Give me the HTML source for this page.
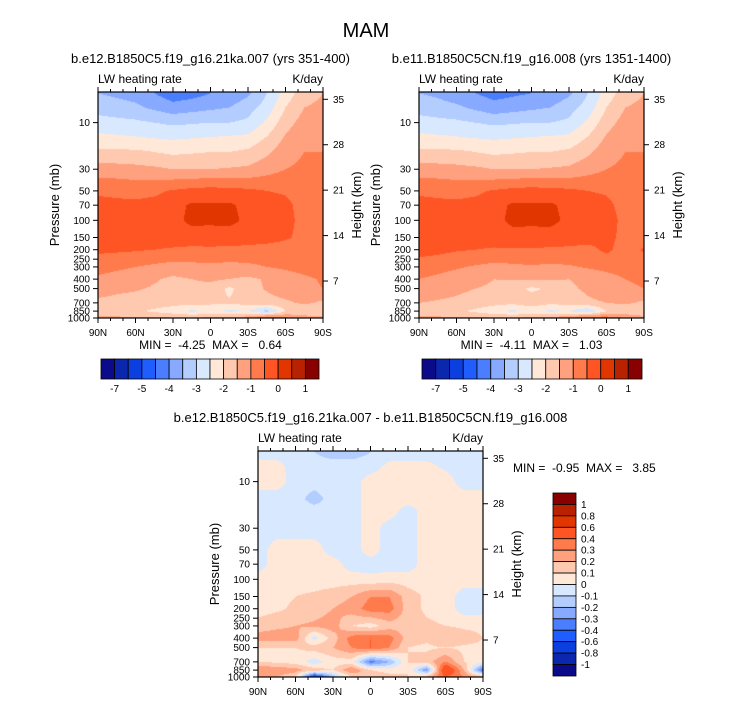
<!DOCTYPE html>
<html><head><meta charset="utf-8">
<style>
body{margin:0;background:#fff;width:733px;height:701px;overflow:hidden;font-family:"Liberation Sans",sans-serif;}
#wrap{position:relative;width:733px;height:701px;}
canvas{position:absolute;}
svg{position:absolute;left:0;top:0;}
svg text{white-space:pre;}
</style></head>
<body>
<div id="wrap">
<canvas id="c1" width="225" height="226" style="left:98px;top:92px"></canvas>
<canvas id="c2" width="225" height="226" style="left:419px;top:92px"></canvas>
<canvas id="c3" width="225" height="226" style="left:258px;top:451px"></canvas>
<svg id="s" width="733" height="701"></svg>
</div>
<script>
// ---- data ----
const lats = [90,75,60,45,30,15,0,-15,-30,-45,-60,-75,-90];
const pres = [5,7,10,15,20,30,50,70,100,150,200,300,400,500,700,850,1000];
const field1 = [
[-3.5,-3.6,-3.7,-4.0,-4.3,-4.2,-4.0,-3.9,-3.6,-3.0,-2.3,-1.7,-1.5],
[-3.2,-3.3,-3.4,-3.6,-3.8,-3.7,-3.6,-3.5,-3.2,-2.8,-2.0,-1.5,-1.4],
[-2.8,-2.85,-2.9,-3.0,-3.1,-3.05,-3.0,-3.0,-2.9,-2.4,-1.7,-1.3,-1.2],
[-2.3,-2.35,-2.4,-2.45,-2.5,-2.45,-2.4,-2.35,-2.3,-1.9,-1.4,-1.1,-1.0],
[-1.9,-1.9,-1.9,-2.0,-2.1,-2.05,-2.0,-2.0,-1.9,-1.6,-1.2,-1.0,-1.0],
[-1.3,-1.3,-1.35,-1.4,-1.5,-1.5,-1.5,-1.45,-1.4,-1.2,-1.0,-0.9,-0.9],
[-0.55,-0.6,-0.65,-0.6,-0.45,-0.35,-0.3,-0.35,-0.4,-0.5,-0.55,-0.7,-0.7],
[-0.4,-0.4,-0.4,-0.35,-0.2,0.08,0.04,0.08,-0.15,-0.3,-0.4,-0.65,-0.7],
[-0.35,-0.35,-0.35,-0.3,-0.15,0.12,0.08,0.12,-0.1,-0.25,-0.4,-0.6,-0.7],
[-0.3,-0.3,-0.3,-0.3,-0.28,-0.25,-0.2,-0.22,-0.25,-0.3,-0.45,-0.6,-0.7],
[-0.4,-0.42,-0.45,-0.5,-0.55,-0.6,-0.6,-0.62,-0.65,-0.7,-0.7,-0.7,-0.7],
[-0.8,-0.9,-1.0,-1.1,-1.2,-1.15,-1.1,-1.15,-1.1,-1.0,-0.9,-0.8,-0.75],
[-1.1,-1.2,-1.3,-1.45,-1.6,-1.5,-1.4,-1.5,-1.6,-1.45,-1.3,-1.1,-0.95],
[-1.3,-1.4,-1.45,-1.55,-1.6,-1.65,-1.7,-2.1,-1.7,-1.45,-1.2,-1.1,-1.0],
[-1.6,-1.65,-1.7,-1.75,-1.8,-1.85,-1.9,-1.95,-1.8,-1.7,-1.6,-1.4,-1.6],
[-1.8,-1.85,-1.9,-2.1,-2.3,-2.6,-2.4,-2.6,-2.5,-3.2,-2.0,-2.0,-2.0],
[-1.4,-1.4,-1.4,-1.4,-1.45,-1.45,-1.4,-1.3,-1.2,-0.5,-0.9,-1.2,-1.3]
];
const field2 = [
[-3.5,-3.6,-3.8,-4.0,-4.2,-4.1,-4.0,-3.9,-3.6,-3.0,-2.3,-1.7,-1.5],
[-3.2,-3.3,-3.4,-3.6,-3.8,-3.7,-3.6,-3.5,-3.2,-2.8,-2.0,-1.5,-1.4],
[-2.8,-2.85,-2.9,-3.0,-3.1,-3.05,-3.0,-3.0,-2.9,-2.4,-1.7,-1.3,-1.2],
[-2.3,-2.35,-2.4,-2.45,-2.5,-2.45,-2.4,-2.35,-2.3,-1.9,-1.4,-1.1,-1.0],
[-1.9,-1.9,-1.9,-2.0,-2.1,-2.05,-2.0,-2.0,-1.9,-1.6,-1.2,-1.0,-1.0],
[-1.3,-1.3,-1.35,-1.4,-1.5,-1.5,-1.5,-1.45,-1.4,-1.2,-1.0,-0.9,-0.9],
[-0.55,-0.6,-0.65,-0.6,-0.45,-0.35,-0.3,-0.35,-0.4,-0.5,-0.55,-0.7,-0.7],
[-0.4,-0.4,-0.4,-0.35,-0.2,0.08,0.04,0.08,-0.15,-0.3,-0.4,-0.65,-0.7],
[-0.35,-0.35,-0.35,-0.3,-0.15,0.12,0.08,0.12,-0.1,-0.25,-0.35,-0.6,-0.7],
[-0.2,-0.25,-0.3,-0.3,-0.28,-0.2,-0.15,-0.2,-0.25,-0.3,-0.4,-0.6,-0.7],
[-0.3,-0.35,-0.45,-0.5,-0.55,-0.55,-0.55,-0.58,-0.6,-0.65,-0.4,-0.7,-0.45],
[-0.75,-0.85,-0.95,-1.05,-1.15,-1.1,-1.05,-1.1,-1.05,-0.95,-0.85,-0.8,-0.75],
[-1.0,-1.1,-1.2,-1.3,-1.5,-1.45,-1.4,-1.45,-1.5,-1.35,-1.2,-1.0,-0.9],
[-1.2,-1.3,-1.4,-1.5,-1.6,-1.8,-2.1,-1.9,-1.6,-1.4,-1.2,-1.1,-1.0],
[-1.5,-1.55,-1.6,-1.7,-1.8,-1.9,-1.7,-1.9,-1.8,-1.6,-1.5,-1.4,-1.6],
[-1.8,-1.85,-1.9,-2.1,-2.4,-2.6,-2.4,-2.6,-2.5,-3.0,-2.0,-1.9,-2.0],
[-1.4,-1.4,-1.4,-1.4,-1.45,-1.45,-1.4,-1.3,-1.1,-0.5,-0.7,-1.0,-1.3]
];
const field3 = [
[-0.05,-0.05,-0.05,-0.1,-0.15,-0.15,-0.1,-0.05,-0.05,-0.05,-0.05,-0.05,-0.05],
[0.05,0.04,-0.05,-0.05,-0.05,-0.05,-0.05,0.03,0.03,0.03,-0.02,-0.05,-0.05],
[0.05,0.05,-0.05,-0.05,-0.05,-0.05,0.05,0.05,0.05,0.05,0.05,-0.05,-0.05],
[-0.05,-0.05,-0.05,-0.15,-0.05,-0.05,0.05,0.05,0.05,0.05,0.05,0.05,0.05],
[-0.05,-0.05,-0.05,-0.05,-0.05,-0.05,0.05,0.05,-0.05,0.05,0.05,0.05,0.05],
[-0.05,-0.05,-0.05,-0.05,-0.05,-0.05,0.05,-0.05,-0.05,0.05,0.05,0.05,0.05],
[-0.05,0.05,0.05,0.05,-0.05,-0.05,0.05,-0.05,-0.05,0.05,0.05,0.05,0.05],
[-0.05,0.05,0.05,0.05,0.05,-0.05,-0.05,-0.05,-0.05,0.05,0.05,0.05,0.05],
[0.05,0.05,0.05,0.05,0.05,0.05,0.03,0.05,0.05,0.05,0.05,0.05,0.05],
[0.05,0.07,0.1,0.12,0.15,0.2,0.3,0.3,0.15,0.08,0.05,-0.05,-0.05],
[0.05,0.08,0.12,0.15,0.2,0.25,0.35,0.35,0.15,0.08,0.05,-0.05,-0.05],
[0.15,0.18,0.2,0.22,0.25,0.1,0.05,0.15,0.15,0.12,0.1,0.08,0.08],
[0.25,0.25,0.25,-0.05,0.15,0.35,0.4,0.35,0.15,0.12,0.2,0.15,0.1],
[0.1,0.1,0.1,0.15,0.2,0.3,0.4,0.3,0.1,0.08,0.1,0.08,0.08],
[0.1,0.08,0.05,-0.05,0.05,0.05,-0.35,-0.2,0.1,0.15,0.3,0.1,0.05],
[0.3,0.28,0.25,0.15,0.1,0.3,0.1,0.05,0.1,-0.3,0.6,0.2,-0.4],
[0.3,0.2,0.1,-0.6,-0.2,0.1,0.2,0.15,0.1,0.2,0.4,0.3,0.2]
];
const levels12 = [-7,-6,-5,-4.5,-4,-3.5,-3,-2.5,-2,-1.5,-1,-0.5,0,0.5,1];
const levels3 = [-1,-0.8,-0.6,-0.4,-0.3,-0.2,-0.1,0,0.1,0.2,0.3,0.4,0.6,0.8,1];
const cbarLabels12 = ["-7","-5","-4","-3","-2","-1","0","1"];
const cbarLabels3 = ["1","0.8","0.6","0.4","0.3","0.2","0.1","0","-0.1","-0.2","-0.3","-0.4","-0.6","-0.8","-1"];
const pTicks = [10,30,50,70,100,150,200,250,300,400,500,700,850,1000];
const hTicks = [35,28,21,14,7];
const latTicks = ["90N","60N","30N","0","30S","60S","90S"];
const colors = ["#0a0a8a","#0b27ad","#0b3fe0","#1f5dff","#4a7eff","#87a9ff","#b4cdff","#d8e9ff","#ffe8d8","#ffc9b0","#ffa17f","#ff7b4c","#ff5524","#e23600","#b82200","#880000"];

// ---- axis functions ----
const W=225,H=226,pTop=4.86,pBot=1000;
function xOfLat(l){return (90-l)/180*W;}
function yOfP(p){return (Math.log10(p)-Math.log10(pTop))/(Math.log10(pBot)-Math.log10(pTop))*H;}
function yOfH(h){return 7.3+(35-h)*6.49;}
function interp(field,lat,p){
  let i=0; while(i<lats.length-2 && lat<lats[i+1]) i++;
  let tx=(lats[i]-lat)/(lats[i]-lats[i+1]); tx=Math.max(0,Math.min(1,tx));
  const lp=Math.log10(p); let j=0;
  while(j<pres.length-2 && p>pres[j+1]) j++;
  let ty=(lp-Math.log10(pres[j]))/(Math.log10(pres[j+1])-Math.log10(pres[j])); ty=Math.max(0,Math.min(1,ty));
  const a=field[j][i],b=field[j][i+1],c=field[j+1][i],d=field[j+1][i+1];
  return (a*(1-tx)+b*tx)*(1-ty)+(c*(1-tx)+d*tx)*ty;
}
function colorFor(v,lev){let k=0;while(k<lev.length&&v>=lev[k])k++;return colors[k];}
function drawField(id,field,lev){
  const ctx=document.getElementById(id).getContext('2d');
  for(let y=0;y<H;y++){
    const p=Math.pow(10,Math.log10(pTop)+(y+0.5)/H*(Math.log10(pBot)-Math.log10(pTop)));
    for(let x=0;x<W;x++){
      const lat=90-(x+0.5)/W*180;
      ctx.fillStyle=colorFor(interp(field,lat,p),lev);
      ctx.fillRect(x,y,1,1);
    }
  }
}
drawField('c1',field1,levels12);
drawField('c2',field2,levels12);
drawField('c3',field3,levels3);

// ---- SVG annotations ----
const svg=document.getElementById('s');
const NS='http://www.w3.org/2000/svg';
function mk(tag,attrs,parent){const e=document.createElementNS(NS,tag);for(const k in attrs)e.setAttribute(k,attrs[k]);(parent||svg).appendChild(e);return e;}
function txt(x,y,s,size,anchor,parent,rot){const e=mk('text',{x:x,y:y,'font-size':size,'text-anchor':anchor||'start',fill:'#000','font-family':'Liberation Sans, sans-serif'},parent);if(rot)e.setAttribute('transform','rotate(-90 '+x+' '+y+')');e.textContent=s;return e;}

const t=txt(366,37,'MAM',20,'middle');



function panel(ox,oy,title,name,minmax){
  const g=mk('g',{});
  
  
  const tt=txt(ox+W/2,oy-29,title,13,'middle',g);
  
  
  const l=txt(ox,oy-9,'LW heating rate',12,'start',g);
  
  
  const u=txt(ox+W,oy-9,'K/day',12,'end',g);
  
  
  mk('rect',{x:ox,y:oy,width:W,height:H,fill:'none',stroke:'#000','stroke-width':1.2},g);
  pTicks.forEach(p=>{const y=oy+yOfP(p);mk('line',{x1:ox-5,x2:ox,y1:y,y2:y,stroke:'#000'},g);
    const lb=txt(ox-8,y+3.5,String(p),10,'end',g);
    
    });
  hTicks.forEach(h=>{const y=oy+yOfH(h);mk('line',{x1:ox+W,x2:ox+W+5,y1:y,y2:y,stroke:'#000'},g);
    const lb=txt(ox+W+10,y+3.5,String(h),10,'start',g);
    
    });
  for(let k=0;k<=18;k++){const x=ox+k*W/18;const major=k%3===0;
    mk('line',{x1:x,x2:x,y1:oy+H,y2:oy+H+(major?5:3),stroke:'#000'},g);
    mk('line',{x1:x,x2:x,y1:oy,y2:oy-(major?5:3),stroke:'#000'},g);}
  latTicks.forEach((s,k)=>{const lb=txt(ox+k*W/6,oy+H+18,s,10,'middle',g);
    
    });
  const yl=txt(ox-39,oy+H/2,'Pressure (mb)',13,'middle',g,true);
  
  
  const hl=txt(ox+W+38,oy+H/2,'Height (km)',13,'middle',g,true);
  
  
  if(minmax){const m=txt(ox+W/2,oy+H+31,minmax,12,'middle',g);
    
    }
}
panel(98,92,'b.e12.B1850C5.f19_g16.21ka.007 (yrs 351-400)','panel-1','MIN =  -4.25  MAX =   0.64');
panel(419,92,'b.e11.B1850C5CN.f19_g16.008 (yrs 1351-1400)','panel-2','MIN =  -4.11  MAX =   1.03');
panel(258,451,'b.e12.B1850C5.f19_g16.21ka.007 - b.e11.B1850C5CN.f19_g16.008','difference-panel',null);
const mm=txt(513,472,'MIN =  -0.95  MAX =   3.85',12,'start');



function hbar(x0,x1,y,name){
  const g=mk('g',{});
  
  
  const bw=(x1-x0)/colors.length;
  colors.forEach((c,k)=>mk('rect',{x:x0+k*bw,y:y,width:bw,height:20,fill:c,stroke:'#000','stroke-width':0.8},g));
  cbarLabels12.forEach((s,k)=>{const lb=txt(x0+(1+2*k)*bw,y+33,s,10,'middle',g);
    
    });
}
hbar(101,319,359,'colorbar-1');
hbar(422,642,359,'colorbar-2');
(function(){
  const g=mk('g',{});
  
  
  const x0=553,y0=493,h=183,bh=h/colors.length;
  colors.slice().reverse().forEach((c,k)=>mk('rect',{x:x0,y:y0+k*bh,width:23,height:bh,fill:c,stroke:'#000','stroke-width':0.8},g));
  cbarLabels3.forEach((s,k)=>{const lb=txt(x0+28,y0+(k+1)*bh+3.5,s,10,'start',g);
    
    });
})();
</script>
</body></html>
